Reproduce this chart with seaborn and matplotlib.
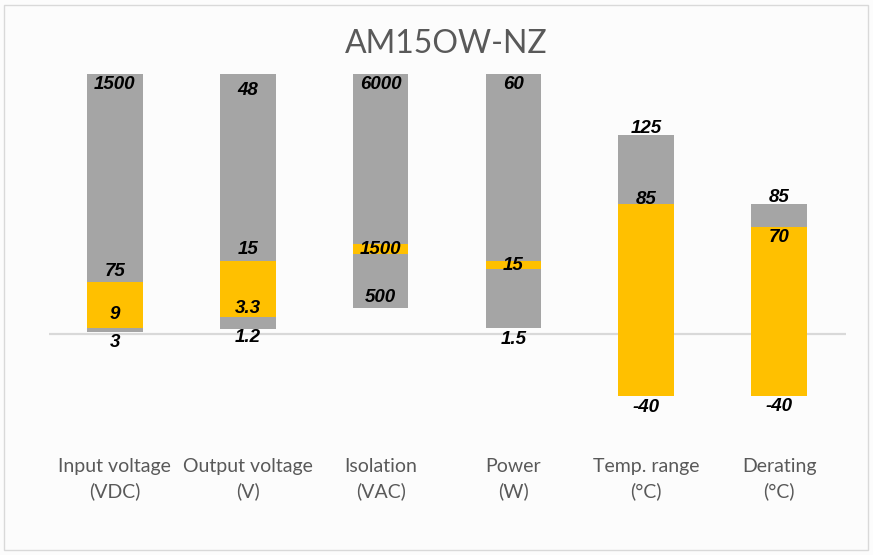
import numpy as np
import pandas as pd
import matplotlib
matplotlib.use("Agg")
import matplotlib.pyplot as plt
import seaborn as sns

# Categories and (chart-unit) extents
categories = ["Input voltage\n(VDC)", "Output voltage\n(V)", "Isolation\n(VAC)",
              "Power\n(W)", "Temp. range\n(°C)", "Derating\n(°C)"]
gray_low = [2, 5, 26, 6, -62, -62]
gray_high = [260, 260, 260, 260, 199, 130]
orange_low = [6, 17, 80, 65, -62, -62]
orange_high = [52, 73, 90, 73, 130, 107]

# Data labels (real values printed on the bars)
top_labels = ["1500", "48", "6000", "60", "125", "85"]
orange_top_labels = ["75", "15", "1500", "15", "85", "70"]
orange_bottom_labels = ["9", "3.3", "", "", "", ""]
bottom_labels = ["3", "1.2", "500", "1.5", "-40", "-40"]

# label offsets in pixels (layout only)
top_dy = [-10, -16, -10, -10, 7, 7]
orange_top_dy = [11, 12, -4, -3, 5, -10]
orange_bottom_dy = [14, 9, 0, 0, 0, 0]
bottom_dy = [-10, -8, 11, -11, -11, -10]

GRAY = "#a5a5a5"
ORANGE = "#ffc000"
TEXT = "#595959"

sns.set_style("white")
plt.rcParams["font.family"] = ["Lato", "DejaVu Sans"]

fig = plt.figure(figsize=(8.73, 5.55), dpi=100)
fig.patch.set_facecolor("#fcfcfc")
ax = fig.add_axes([48.5 / 873, 0.2532, 797 / 873, 0.6486])
ax.set_facecolor("#fcfcfc")

df = pd.DataFrame({
    "cat": categories,
    "gray_span": np.array(gray_high) - np.array(gray_low),
    "orange_span": np.array(orange_high) - np.array(orange_low),
})

sns.barplot(data=df, x="cat", y="gray_span", color=GRAY, saturation=1,
            width=0.42, ax=ax, linewidth=0)
n = len(categories)
for p, lo in zip(ax.patches[:n], gray_low):
    p.set_y(lo)
sns.barplot(data=df, x="cat", y="orange_span", color=ORANGE, saturation=1,
            width=0.42, ax=ax, linewidth=0)
for p, lo in zip(ax.patches[n:], orange_low):
    p.set_y(lo)

ax.axhline(0, color="#d9d9d9", lw=1.6, zorder=0.5)

ax.set_xlim(-0.5, 5.5)
ax.set_ylim(-80, 280)
sns.despine(ax=ax, left=True, bottom=True)
ax.set_yticks([])
ax.set_xlabel("")
ax.set_ylabel("")
ax.tick_params(axis="x", length=0, pad=31, labelsize=14, labelcolor=TEXT)
for t in ax.get_xticklabels():
    t.set_linespacing(1.5)


def put(i, y, txt, dy):
    if not txt:
        return
    ax.annotate(txt, (i, y), xytext=(0, dy), textcoords="offset pixels",
                ha="center", va="center", fontsize=13.5, fontweight="bold",
                fontstyle="italic", family="Liberation Sans", color="black")


for i in range(n):
    put(i, gray_high[i], top_labels[i], top_dy[i])
    anchor = orange_high[i]
    if orange_high[i] - orange_low[i] < 15:
        anchor = (orange_high[i] + orange_low[i]) / 2
    put(i, anchor, orange_top_labels[i], orange_top_dy[i] if anchor == orange_high[i] else 0)
    put(i, orange_low[i], orange_bottom_labels[i], orange_bottom_dy[i])
    put(i, gray_low[i], bottom_labels[i], bottom_dy[i])

fig.text(446 / 873, 1 - 44 / 555, "AM15OW-NZ", ha="center", va="center",
         fontsize=23, color=TEXT)

# chart border
fig.add_artist(plt.Rectangle((4 / 873, 5 / 555), 864 / 873, 545 / 555,
                             transform=fig.transFigure, fill=False,
                             edgecolor="#d9d9d9", lw=1))

fig.savefig("out.png", dpi=100, facecolor=fig.get_facecolor())
